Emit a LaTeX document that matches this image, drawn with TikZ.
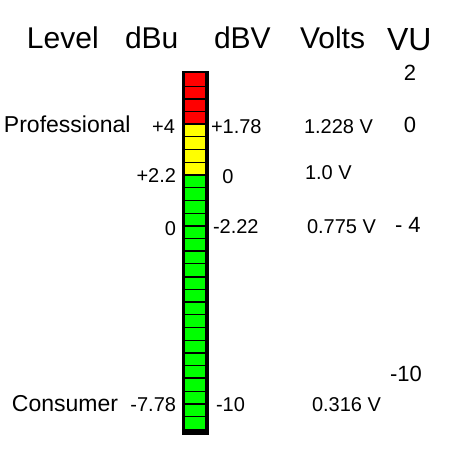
\documentclass[tikz,border=0pt]{standalone}
\usepackage{fontspec}
\setmainfont{Liberation Sans}
\definecolor{segred}{RGB}{255,0,0}
\definecolor{segyellow}{RGB}{255,255,0}
\definecolor{seggreen}{RGB}{0,255,0}
\tikzset{
  txt/.style={inner sep=0pt, outer sep=0pt, text=black},
  hdr/.style={txt, font=\fontsize{30}{34}\selectfont},
  vuhdr/.style={txt, font=\fontsize{32}{36}\selectfont},
  lab/.style={txt, font=\fontsize{20}{24}\selectfont},
  biglab/.style={txt, font=\fontsize{23}{27}\selectfont},
  vulab/.style={txt, font=\fontsize{22}{26}\selectfont},
}
\begin{document}
\begin{tikzpicture}[x=1pt,y=-1pt]
\useasboundingbox (0,0) rectangle (450,450);
\fill[white] (0,0) rectangle (450,450);
% meter bar
\fill[black] (182,71) rectangle (209,435);
\foreach \i in {0,...,27}{
  \pgfmathsetmacro{\top}{73.3+\i*12.71}
  \pgfmathsetmacro{\bot}{\top+12.71}
  \ifnum\i<4 \def\segc{segred}\else\ifnum\i<8 \def\segc{segyellow}\else\def\segc{seggreen}\fi\fi
  \fill[\segc] (185.3,\top) rectangle (205.4,\bot);
}
\foreach \i in {0,...,26}{
  \pgfmathsetmacro{\yy}{73.3+(\i+1)*12.71}
  \pgfmathtruncatemacro{\odd}{mod(\i,2)}
  \ifnum\odd=0
    \draw[black, line width=1pt] (185.3,\yy) -- (205.4,\yy);
  \else
    \draw[black, line width=1.8pt] (185.3,\yy) -- (205.4,\yy);
  \fi
}
% headers
\node[hdr, anchor=base west] (hLevel) at (27,48) {Level};
\node[hdr, anchor=base west] (hdBu) at (125,48) {dBu};
\node[hdr, anchor=base west] (hdBV) at (214,48) {dBV};
\node[hdr, anchor=base west] (hVolts) at (300,48) {Volts};
\node[vuhdr, anchor=base west] (hVU) at (387,50) {VU};
% VU scale
\node[vulab, anchor=base] (vu2) at (410,80) {2};
\node[vulab, anchor=base] (vu0) at (410,132) {0};
\node[vulab, anchor=base west] (vum4) at (395,232) {- 4};
\node[vulab, anchor=base west] (vum10) at (390,381) {-10};
% Professional row
\node[biglab, anchor=base west] (prof) at (4,132) {Professional};
\node[lab, anchor=base east] (pdbu) at (175,133) {+4};
\node[lab, anchor=base west] (pdbv) at (211,133) {+1.78};
\node[lab, anchor=base west] (pv) at (304,133) {1.228 V};
% +2.2 row
\node[lab, anchor=base east] (rdbu) at (176,182) {+2.2};
\node[lab, anchor=base] (rdbv) at (228,183) {0};
\node[lab, anchor=base west] (rv) at (305,179) {1.0 V};
% 0 row
\node[lab, anchor=base east] (zdbu) at (176,235) {0};
\node[lab, anchor=base west] (zdbv) at (213,233) {-2.22};
\node[lab, anchor=base west] (zv) at (307,233) {0.775 V};
% Consumer row
\node[biglab, anchor=base west] (cons) at (12,411) {Consumer};
\node[lab, anchor=base east] (cdbu) at (176,411) {-7.78};
\node[lab, anchor=base west] (cdbv) at (216,411) {-10};
\node[lab, anchor=base west] (cv) at (312,411) {0.316 V};
\end{tikzpicture}
\end{document}
